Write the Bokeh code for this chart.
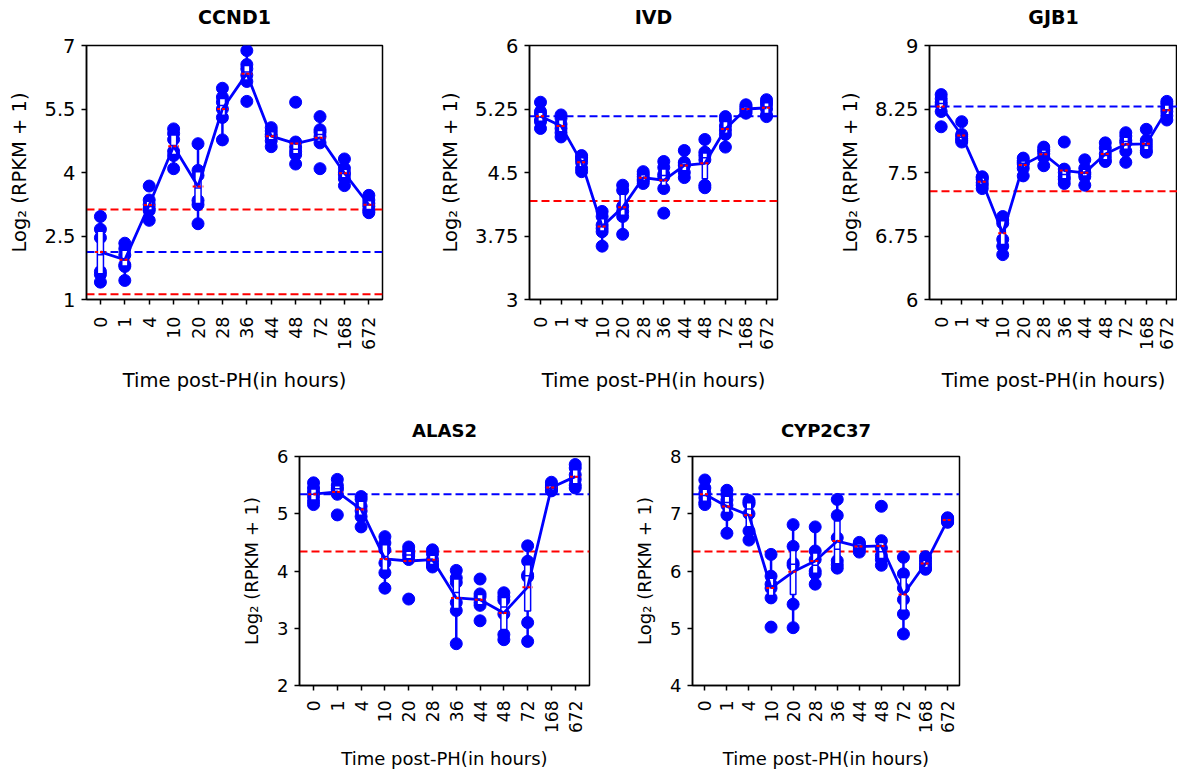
import math
import numpy as np
from bokeh.plotting import figure
from bokeh.layouts import row, column
from bokeh.models import Spacer, FixedTicker, Span, Title
from bokeh.embed import file_html
from bokeh.resources import INLINE

time_labels = ["0", "1", "4", "10", "20", "28", "36", "44", "48", "72", "168", "672"]

ccnd1 = [
    [2.96, 2.66, 2.46, 1.66, 1.59, 1.41],
    [2.33, 2.20, 2.05, 1.82, 1.78, 1.45],
    [3.68, 3.35, 3.24, 3.15, 3.10, 2.87],
    [5.03, 4.92, 4.78, 4.50, 4.40, 4.09],
    [4.68, 4.05, 3.93, 3.34, 3.24, 2.79],
    [5.99, 5.78, 5.66, 5.50, 5.30, 4.77],
    [6.88, 6.55, 6.45, 6.30, 6.15, 5.68],
    [5.06, 4.98, 4.90, 4.85, 4.75, 4.61],
    [5.66, 4.72, 4.60, 4.50, 4.42, 4.20],
    [5.32, 5.01, 4.95, 4.85, 4.70, 4.09],
    [4.32, 4.10, 4.00, 3.95, 3.85, 3.69],
    [3.46, 3.35, 3.27, 3.20, 3.10, 3.05],
]
ivd = [
    [5.33, 5.22, 5.19, 5.12, 5.10, 5.02],
    [5.18, 5.14, 5.07, 5.02, 4.97, 4.92],
    [4.70, 4.68, 4.66, 4.62, 4.55, 4.51],
    [4.04, 3.98, 3.88, 3.84, 3.80, 3.63],
    [4.35, 4.29, 4.10, 4.04, 3.98, 3.77],
    [4.51, 4.48, 4.45, 4.42, 4.40, 4.37],
    [4.63, 4.56, 4.48, 4.45, 4.31, 4.02],
    [4.76, 4.62, 4.60, 4.58, 4.50, 4.44],
    [4.89, 4.74, 4.70, 4.65, 4.35, 4.32],
    [5.16, 5.12, 5.05, 5.00, 4.95, 4.80],
    [5.30, 5.28, 5.26, 5.24, 5.22, 5.20],
    [5.36, 5.33, 5.30, 5.25, 5.18, 5.16],
]
gjb1 = [
    [8.42, 8.37, 8.33, 8.30, 8.22, 8.04],
    [8.10, 7.95, 7.93, 7.90, 7.88, 7.86],
    [7.45, 7.44, 7.42, 7.38, 7.35, 7.31],
    [6.98, 6.94, 6.90, 6.71, 6.63, 6.53],
    [7.67, 7.64, 7.62, 7.60, 7.55, 7.46],
    [7.80, 7.77, 7.75, 7.72, 7.68, 7.58],
    [7.86, 7.54, 7.50, 7.45, 7.42, 7.37],
    [7.65, 7.55, 7.50, 7.48, 7.45, 7.35],
    [7.85, 7.79, 7.72, 7.68, 7.64, 7.63],
    [7.97, 7.93, 7.88, 7.85, 7.75, 7.62],
    [8.01, 7.88, 7.84, 7.80, 7.76, 7.74],
    [8.34, 8.31, 8.26, 8.22, 8.17, 8.12],
]
alas2 = [
    [5.54, 5.45, 5.38, 5.30, 5.22, 5.16],
    [5.60, 5.50, 5.45, 5.42, 5.34, 4.98],
    [5.30, 5.25, 5.13, 5.05, 4.95, 4.77],
    [4.60, 4.49, 4.37, 4.14, 3.97, 3.70],
    [4.42, 4.36, 4.30, 4.26, 4.20, 3.51],
    [4.37, 4.30, 4.20, 4.15, 4.10, 4.07],
    [4.01, 3.88, 3.80, 3.45, 3.31, 2.73],
    [3.86, 3.60, 3.55, 3.45, 3.40, 3.13],
    [3.62, 3.55, 3.49, 3.25, 2.89, 2.80],
    [4.44, 4.17, 3.93, 3.90, 3.10, 2.77],
    [5.55, 5.50, 5.46, 5.43, 5.41, 5.40],
    [5.86, 5.80, 5.68, 5.60, 5.50, 5.45],
]
cyp2c37 = [
    [7.59, 7.45, 7.36, 7.28, 7.20, 7.16],
    [7.41, 7.33, 7.24, 7.15, 6.98, 6.66],
    [7.23, 7.20, 7.17, 7.00, 6.70, 6.54],
    [6.29, 5.91, 5.77, 5.70, 5.53, 5.02],
    [6.81, 6.43, 6.14, 6.10, 5.42, 5.01],
    [6.77, 6.35, 6.20, 6.00, 5.95, 5.77],
    [7.25, 6.97, 6.58, 6.18, 6.11, 6.05],
    [6.50, 6.48, 6.45, 6.42, 6.38, 6.33],
    [7.13, 6.53, 6.40, 6.27, 6.20, 6.10],
    [6.24, 5.95, 5.70, 5.50, 5.25, 4.90],
    [6.25, 6.20, 6.15, 6.10, 6.05, 6.03],
    [6.93, 6.92, 6.90, 6.88, 6.86, 6.85],
]

ccnd1_ticks = [1, 2.5, 4, 5.5, 7]
ivd_ticks = [3, 3.75, 4.5, 5.25, 6]
gjb1_ticks = [6, 6.75, 7.5, 8.25, 9]
alas2_ticks = [2, 3, 4, 5, 6]
cyp2c37_ticks = [4, 5, 6, 7, 8]

FONT = "DejaVu Sans"
BLUE = "#0000ff"
RED = "#ff0000"

TOP_STYLE = dict(title_fs="19px", gap=15, xtick_fs="17.5px", ytick_fs="19.5px",
                 label_fs="19.5px", xtick_so=12, xlab_so=16, ylab_so=10)
BOT_STYLE = dict(title_fs="18px", gap=13, xtick_fs="17px", ytick_fs="18px",
                 label_fs="18px", xtick_so=10, xlab_so=12, ylab_so=12)


def fmt(v):
    return ("%g" % v)


def panel(name, reps, yticks, x_start, x_end, width, height, bl, br, bt, bb, st):
    p = figure(width=width, height=height, output_backend="svg", toolbar_location=None,
               x_range=(x_start, x_end), y_range=(yticks[0], yticks[-1]),
               min_border_left=bl, min_border_right=br, min_border_top=bt,
               min_border_bottom=bb)
    # a thin spacer title sits against the frame, the real title goes outside it
    p.add_layout(Title(text=" ", text_font_size="1px", standoff=st["gap"]), "above")
    p.add_layout(Title(text=name, align="center", vertical_align="bottom", standoff=0,
                       text_font=FONT, text_font_size=st["title_fs"],
                       text_font_style="bold", text_color="black"), "above")
    p.xgrid.visible = False
    p.ygrid.visible = False
    p.outline_line_color = "black"
    p.outline_line_width = 1.5
    p.outline_line_alpha = 1.0

    n = len(reps)
    xs = np.arange(n, dtype=float)
    means, q1s, meds, q3s, los, his = [], [], [], [], [], []
    px, py = [], []
    for i, r in enumerate(reps):
        a = np.array(r, dtype=float)
        q1, med, q3 = np.percentile(a, [25, 50, 75])
        iqr = q3 - q1
        lo = a[a >= q1 - 1.5 * iqr].min()
        hi = a[a <= q3 + 1.5 * iqr].max()
        means.append(a.mean()); q1s.append(q1); meds.append(med); q3s.append(q3)
        los.append(lo); his.append(hi)
        px.extend([i] * len(a)); py.extend(a.tolist())

    base = means[0]
    for loc, col in [(base, BLUE), (base + 1, RED), (base - 1, RED)]:
        p.add_layout(Span(location=loc, dimension="width", line_color=col,
                          line_dash="8 4", line_width=2, level="underlay"))

    hw = 0.125
    p.segment(x0=xs, y0=los, x1=xs, y1=q1s, line_color=BLUE, line_width=2.5)
    p.segment(x0=xs, y0=q3s, x1=xs, y1=his, line_color=BLUE, line_width=2.5)
    p.scatter(px, py, size=12, fill_color=BLUE, line_color=BLUE)
    p.quad(left=xs - hw, right=xs + hw, bottom=q1s, top=q3s, fill_color="white",
           line_color=BLUE, line_width=1.5)
    p.segment(x0=xs - hw, y0=meds, x1=xs + hw, y1=meds, line_color=BLUE, line_width=1.5)
    p.line(xs, means, line_color=BLUE, line_width=2.8)
    p.segment(x0=xs - 0.22, y0=means, x1=xs + 0.22, y1=means, line_color=RED,
              line_width=2, line_dash="3 2")

    xa = p.xaxis[0]
    xa.ticker = FixedTicker(ticks=list(range(n)))
    xa.major_label_overrides = {i: time_labels[i] for i in range(n)}
    xa.major_label_orientation = math.pi / 2
    xa.axis_label = "Time post-PH(in hours)"
    ya = p.yaxis[0]
    ya.ticker = FixedTicker(ticks=yticks)
    ya.major_label_overrides = {t: fmt(t) for t in yticks}
    ya.axis_label = "Log\u2082 (RPKM + 1)"
    for ax in (xa, ya):
        ax.minor_tick_line_color = None
        ax.major_tick_in = 0
        ax.major_tick_out = 5
        ax.major_tick_line_width = 1.5
        ax.major_tick_line_color = "black"
        ax.axis_line_width = 1.5
        ax.axis_line_color = "black"
        ax.major_label_text_font = FONT
        ax.major_label_text_color = "black"
        ax.axis_label_text_font = FONT
        ax.axis_label_text_font_size = st["label_fs"]
        ax.axis_label_text_font_style = "normal"
        ax.axis_label_text_color = "black"
    xa.major_label_text_font_size = st["xtick_fs"]
    ya.major_label_text_font_size = st["ytick_fs"]
    xa.major_label_standoff = st["xtick_so"]
    ya.major_label_standoff = 6
    xa.axis_label_standoff = st["xlab_so"]
    ya.axis_label_standoff = st["ylab_so"]
    return p


p1 = panel("CCND1", ccnd1, ccnd1_ticks, -0.57, 11.56, 436, 400, 86, 54, 45, 101, TOP_STYLE)
p2 = panel("IVD", ivd, ivd_ticks, -0.535, 11.535, 400, 400, 54, 59, 43, 99, TOP_STYLE)
p3 = panel("GJB1", gjb1, gjb1_ticks, -0.57, 11.52, 341, 400, 58, 0, 43, 99, TOP_STYLE)
p4 = panel("ALAS2", alas2, alas2_ticks, -0.59, 11.6, 411, 371, 79, 42, 55, 83, BOT_STYLE)
p5 = panel("CYP2C37", cyp2c37, cyp2c37_ticks, -0.56, 11.54, 369, 371, 42, 41, 56, 82, BOT_STYLE)

layout = column(row(p1, p2, p3), row(Spacer(width=220, height=371), p4, p5))
open("out.html", "w").write(file_html(layout, INLINE))
